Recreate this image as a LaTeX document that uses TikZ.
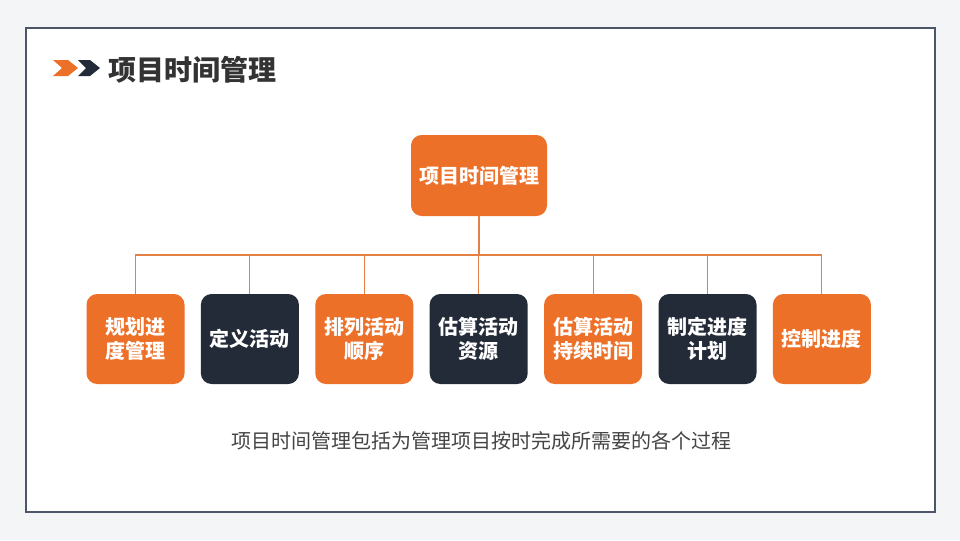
\documentclass[tikz,border=0pt]{standalone}
\usepackage{fontspec}
\newfontfamily\cjk{Noto Sans CJK SC}
\usetikzlibrary{positioning,calc}
\definecolor{myorange}{RGB}{236,112,40}
\definecolor{mydark}{RGB}{35,42,56}
\definecolor{myline}{RGB}{226,128,70}
\definecolor{myframe}{RGB}{76,86,104}
\definecolor{mybg}{RGB}{244,245,247}
\definecolor{mytext}{RGB}{51,51,51}
\definecolor{mynote}{RGB}{68,68,68}

\begin{document}
\begin{tikzpicture}[x=0.75pt,y=-0.75pt,
  every node/.style={font=\cjk\bfseries\fontsize{15pt}{18pt}\selectfont,text=white},
  box/.style={rounded corners=8pt,minimum width=73.5pt,minimum height=67.5pt,align=center,inner sep=0pt},
  link/.style={myline,line width=0.8pt}
]

% the page and its frame
\fill[mybg] (0,0) rectangle (960,540);
\fill[white] (26,28) rectangle (935,512);
\draw[myframe,line width=1.5pt] (26,28) rectangle (935,512);

% the title
\fill[myorange] (53,60) -- (68,60) -- (78,68) -- (68,76) -- (53,76) -- (62,68) -- cycle;
\fill[mydark] (78,60) -- (90,60) -- (100,68) -- (90,76) -- (78,76) -- (86,68) -- cycle;
\node[anchor=west,inner sep=0pt,text=mytext,font=\cjk\bfseries\fontsize{21pt}{24pt}\selectfont] (title) at (108,70) {项目时间管理};

% the root
\node[box,fill=myorange,minimum width=102pt,minimum height=60.75pt] (root) at (479,175.5) {项目时间管理};
\coordinate (bus) at (479,255);

% the processes
\foreach \i/\c/\t in {1/myorange/{规划进\\度管理},2/mydark/{定义活动},3/myorange/{排列活动\\顺序},
  4/mydark/{估算活动\\资源},5/myorange/{估算活动\\持续时间},6/mydark/{制定进度\\计划},7/myorange/{控制进度}}
  \node[box,fill=\c] (b\i) at ({135.5+114.4*(\i-1)},339) {\t};

% the edges
\draw[link] (root.south) -- (bus);
\foreach \i in {1,...,7}
  \draw[link] (b\i.north) |- (bus);

% the note
\node[text=mynote,font=\cjk\fontsize{15pt}{18pt}\selectfont] (note) at (481,441) {项目时间管理包括为管理项目按时完成所需要的各个过程};
\end{tikzpicture}
\end{document}
